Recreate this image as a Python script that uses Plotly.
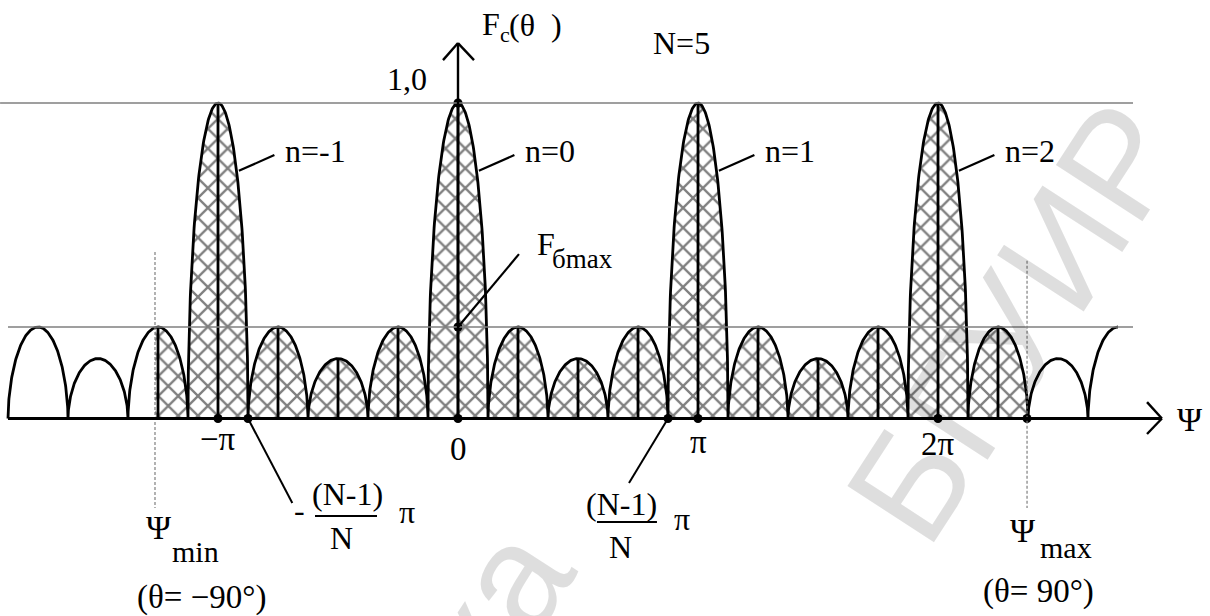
import numpy as np
import plotly.graph_objects as go

# ---- data: array-factor lobes along the generalized angle axis (Psi in units of pi) ----
N_ELEMENTS = 5
lobe_centers = [-1.75, -1.5, -1.25, -1.0, -0.75, -0.5, -0.25, 0.0, 0.25, 0.5,
                0.75, 1.0, 1.25, 1.5, 1.75, 2.0, 2.25, 2.5, 2.75]
lobe_levels = [0.29, 0.19, 0.29, 1.0, 0.29, 0.19, 0.29, 1.0, 0.29, 0.19,
               0.29, 1.0, 0.29, 0.19, 0.29, 1.0, 0.29, 0.19, 0.29]
main_lobe_orders = [-1, 0, 1, 2]
main_lobe_centers = [-1.0, 0.0, 1.0, 2.0]
tick_positions = [-1.0, 0.0, 1.0, 2.0]
tick_labels = ["\u2212\u03c0", "0", "\u03c0", "2\u03c0"]
LOBE_HALF_WIDTH = 0.125
SIDELOBE_MAX = 0.29          # F_бmax
PSI_MIN = -1.2625            # theta = -90 deg
PSI_MAX = 2.371              # theta = +90 deg
CURVE_START = -1.875
CURVE_END = 2.75

FONT = "Liberation Serif"
MARK_FONT = "Liberation Sans"
BLACK = "black"
GRAY = "#7f7f7f"

# ---- build the pattern outline from the lobe list ----
def lobe_arc(c, h, w):
    t = np.linspace(-np.pi / 2, np.pi / 2, 161)
    p = 0.5 if h >= 0.99 else 0.55
    return c + w * np.sin(t), h * np.cos(t) ** (2 * p)

cx, cy = [], []
for c, h in zip(lobe_centers, lobe_levels):
    x, y = lobe_arc(c, h, LOBE_HALF_WIDTH)
    keep = (x >= CURVE_START - 1e-9) & (x <= CURVE_END + 1e-9)
    if c == CURVE_END:
        keep &= np.arange(len(x)) <= len(x) // 2
    cx.extend(x[keep]); cy.extend(y[keep])
cx = np.array(cx); cy = np.array(cy)

# hatched region: visible sector between Psi_min and Psi_max
inside = (cx > PSI_MIN) & (cx < PSI_MAX)
hx = np.concatenate([[PSI_MIN], cx[inside], [PSI_MAX, PSI_MAX, PSI_MIN]])
hy = np.concatenate([[np.interp(PSI_MIN, cx, cy)], cy[inside],
                     [np.interp(PSI_MAX, cx, cy), 0.0, 0.0]])

fig = go.Figure()

fig.add_trace(go.Scatter(
    x=hx, y=hy, mode="lines", fill="toself", line=dict(width=0),
    fillcolor="rgba(0,0,0,0)",
    fillpattern=dict(shape="x", size=14, solidity=0.3, fgcolor=BLACK,
                     bgcolor="rgba(0,0,0,0)"),
    hoverinfo="skip"))

fig.add_trace(go.Scatter(x=cx, y=cy, mode="lines",
                         line=dict(color=BLACK, width=2.8), hoverinfo="skip"))

# vertical centre lines of the lobes inside the visible sector
vx, vy = [], []
for c, h in zip(lobe_centers, lobe_levels):
    if PSI_MIN <= c <= PSI_MAX:
        vx += [c, c, None]; vy += [0, h, None]
fig.add_trace(go.Scatter(x=vx, y=vy, mode="lines",
                         line=dict(color=BLACK, width=2.8), hoverinfo="skip"))

# marked points
edge_l = main_lobe_centers[0] + LOBE_HALF_WIDTH
edge_r = main_lobe_centers[2] - LOBE_HALF_WIDTH
dot_x = [0.0, 0.0] + tick_positions + [edge_l, edge_r, PSI_MAX]
dot_y = [1.0, SIDELOBE_MAX] + [0.0] * len(tick_positions) + [0.0, 0.0, 0.0]
fig.add_trace(go.Scatter(x=dot_x, y=dot_y, mode="markers",
                         marker=dict(color=BLACK, size=9), hoverinfo="skip"))

shapes = []
def seg(x0, y0, x1, y1, color=BLACK, width=2.2, dash=None):
    line = dict(color=color, width=width)
    if dash:
        line["dash"] = dash
    shapes.append(dict(type="line", xref="x", yref="y", x0=x0, y0=y0,
                       x1=x1, y1=y1, line=line))

# reference levels
seg(-1.908, 1.0, 2.8125, 1.0, GRAY, 1.5)
seg(CURVE_START, SIDELOBE_MAX, 2.8125, SIDELOBE_MAX, GRAY, 1.5)

# visible sector borders
seg(PSI_MIN, 0.528, PSI_MIN, -0.284, GRAY, 1.2, "3px,2px")
seg(PSI_MAX, 0.50, PSI_MAX, -0.284, GRAY, 1.2, "3px,2px")

# Psi axis with arrow
seg(CURVE_START, 0, 2.933, 0, BLACK, 2.8)
seg(2.871, 0.052, 2.933, 0, BLACK, 2.4)
seg(2.871, -0.049, 2.933, 0, BLACK, 2.4)

# F axis with arrow
seg(0, 0, 0, 1.19, BLACK, 2.4)
seg(-0.0625, 1.136, 0, 1.19, BLACK, 2.4)
seg(0.0667, 1.136, 0, 1.19, BLACK, 2.4)

# leaders to lobe order labels
for c in main_lobe_centers:
    seg(c + 0.087, 0.785, c + 0.235, 0.835, BLACK, 2.2)

# leader to F_бmax
seg(0.0, SIDELOBE_MAX, 0.254, 0.521, BLACK, 2.2)

# leaders to the fraction labels
seg(edge_l, 0, -0.6904, -0.2678, BLACK, 2.0)
seg(edge_r, 0, 0.7125, -0.2044, BLACK, 2.0)

# fraction bars
seg(-0.5958, -0.309, -0.3375, -0.309, BLACK, 2.0)
seg(0.579, -0.328, 0.829, -0.328, BLACK, 2.0)

ann = []
def txt(x, y, s, size=32, xanchor="center", yanchor="middle"):
    ann.append(dict(x=x, y=y, xref="x", yref="y", text=s, showarrow=False,
                    xanchor=xanchor, yanchor=yanchor,
                    font=dict(family=FONT, size=size, color=BLACK)))

# library stamp across the sheet (translucent so black strokes stay black)
for s, x, y in [("\u0411\u0413\u0423\u0418\u0420", 1015 / 1210, 1 - 322 / 616),
                ("\u0411\u0438\u0431\u043b\u0438\u043e\u0442\u0435\u043a\u0430",
                 313 / 1210, 1 - 885 / 616)]:
    ann.append(dict(x=x, y=y, xref="paper", yref="paper", text=s,
                    xanchor="center", yanchor="middle",
                    showarrow=False, textangle=-57,
                    font=dict(family=MARK_FONT, size=150, color="rgba(0,0,0,0.13)")))

# axis titles
txt(0.0917, 1.2504, "F", 32, "left")
txt(0.167, 1.2187, "c", 22, "left")
txt(0.204, 1.247, "(\u03b8\u2002)", 32, "left")
txt(3.046, -0.0016, "\u03a8", 34)
txt(0.9333, 1.19, "N=%d" % N_ELEMENTS, 32)
txt(-0.2125, 1.0761, "1,0", 32)

# tick labels
tick_v = [-0.065, -0.0967, -0.0745, -0.0808]
for xp, lab, yv in zip(tick_positions, tick_labels, tick_v):
    txt(xp, yv, lab, 33)

# lobe order labels
for c, n in zip(main_lobe_centers, main_lobe_orders):
    txt(c + 0.27, 0.848, "n=%d" % n, 32, "left")

# F_бmax
txt(0.321, 0.5525, "F", 32, "left")
txt(0.383, 0.505, "\u0431max", 27, "left")

# -(N-1)/N pi
txt(-0.6625, -0.29, "-", 32)
txt(-0.4625, -0.2393, "(N-1)", 32)
txt(-0.4875, -0.3788, "N", 32)
txt(-0.2125, -0.2964, "\u03c0", 32)

# (N-1)/N pi
txt(0.6833, -0.271, "(N-1)", 32)
txt(0.679, -0.4073, "N", 32)
txt(0.9333, -0.3185, "\u03c0", 32)

# sector limits
txt(-1.25, -0.3439, "\u03a8", 34)
txt(-1.2, -0.4219, "min", 30, "left")
txt(-1.0708, -0.5658, "(\u03b8= \u221290\u00b0)", 33)
txt(2.354, -0.3534, "\u03a8", 34)
txt(2.4167, -0.4073, "max", 30, "left")
txt(2.4167, -0.5468, "(\u03b8= 90\u00b0)", 33)

fig.update_layout(
    width=1210, height=616,
    margin=dict(l=0, r=0, t=0, b=0),
    paper_bgcolor="white", plot_bgcolor="white",
    showlegend=False,
    font=dict(family=FONT, color=BLACK),
    xaxis=dict(range=[-458 / 240, 752 / 240], visible=False, fixedrange=True),
    yaxis=dict(range=[-0.626, 1.3265], visible=False, fixedrange=True),
    shapes=shapes, annotations=ann,
)

fig.write_html("out.html")
